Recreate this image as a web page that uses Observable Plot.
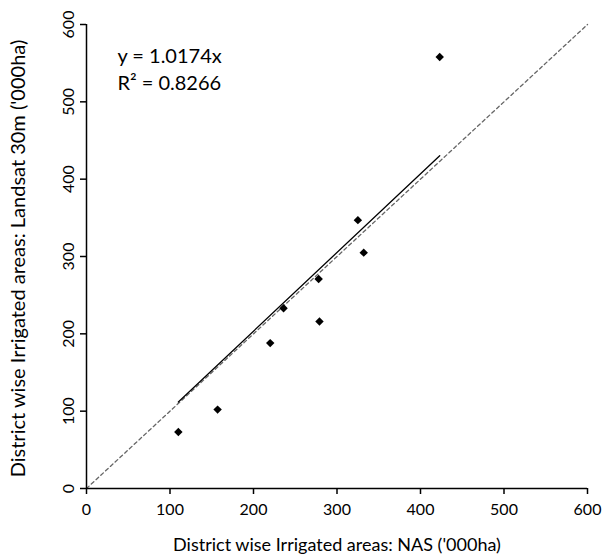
<!DOCTYPE html>
<html>
<head>
<meta charset="utf-8">
<script src="https://cdn.jsdelivr.net/npm/d3@7"></script>
<script src="https://cdn.jsdelivr.net/npm/@observablehq/plot@0.6"></script>
<style>
  body { margin: 0; background: #fff; }
  svg { font-family: Lato, "Open Sans", sans-serif; }
</style>
</head>
<body>
<div id="chart"></div>
<script>
const nasX = [110, 157, 220, 236, 278, 279, 325, 332, 423];
const landsatY = [73, 102, 188, 233, 271, 216, 347, 305, 558];
const xTicks = [0, 100, 200, 300, 400, 500, 600];
const yTicks = [0, 100, 200, 300, 400, 500, 600];
const slope = 1.0174;
const trendRange = [110, 423];
const oneToOne = [0, 600];
const eqLines = ["y = 1.0174x", "R² = 0.8266"];
const eqY = [559, 524];

const pts = nasX.map((x, i) => ({x, y: landsatY[i]}));
const trend = trendRange.map(x => ({x, y: slope * x}));
const ref = oneToOne.map(v => ({x: v, y: v}));
const eq = eqLines.map((t, i) => ({t, y: eqY[i]}));

const chart = Plot.plot({
  width: 602,
  height: 560,
  marginLeft: 86,
  marginRight: 15,
  marginTop: 24,
  marginBottom: 72,
  style: {fontFamily: "Lato, 'Open Sans', sans-serif", background: "#fff"},
  x: {type: "linear", domain: [0, 600]},
  y: {type: "linear", domain: [0, 600]},
  marks: [
    Plot.line(ref, {x: "x", y: "y", stroke: "#666", strokeWidth: 1.3, strokeDasharray: "3.5,3"}),
    Plot.line(trend, {x: "x", y: "y", stroke: "#000", strokeWidth: 1.3}),
    Plot.dot(pts, {x: "x", y: "y", symbol: "diamond2", r: 3.8, fill: "#000", stroke: "none"}),
    Plot.ruleY([0], {stroke: "#000", strokeWidth: 1.5}),
    Plot.ruleX([0], {stroke: "#000", strokeWidth: 1.5}),
    Plot.axisX({ticks: xTicks, tickSize: 6, tickPadding: 9, fontSize: 16, label: null, stroke: "#000", strokeWidth: 1.5}),
    Plot.axisY({ticks: yTicks, tickSize: 6, tickPadding: 7, tickRotate: -90, fontSize: 16, label: null, stroke: "#000", strokeWidth: 1.5}),
    Plot.text(eq, {x: 37, y: "y", text: "t", textAnchor: "start", fontSize: 20, fill: "#000"}),
    Plot.text(["District wise Irrigated areas: NAS ('000ha)"], {frameAnchor: "bottom", dy: 62, text: d => d, fontSize: 18, fill: "#000"}),
    Plot.text(["District wise Irrigated areas: Landsat 30m ('000ha)"], {frameAnchor: "left", textAnchor: "middle", dx: -68, dy: 2, rotate: -90, text: d => d, fontSize: 20, fill: "#000"})
  ]
});
document.getElementById("chart").appendChild(chart);
</script>
</body>
</html>
